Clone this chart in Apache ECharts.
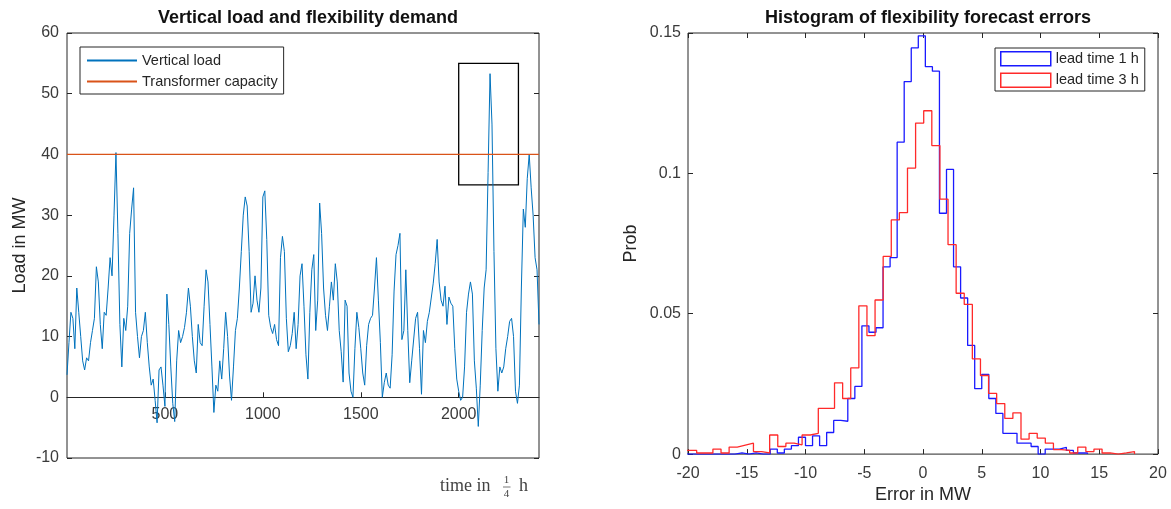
<!DOCTYPE html>
<html>
<head>
<meta charset="utf-8">
<script src="https://cdn.jsdelivr.net/npm/echarts@6/dist/echarts.min.js"></script>
<style>
html,body{margin:0;padding:0;background:#fff;}
#chart{width:1171px;height:509px;}
</style>
</head>
<body>
<div id="chart"></div>
<script>
// ---------- Left panel data ----------
const loadStep = 10; // samples every 10 quarter-hours
const loadValues = [
  3.7, 9, 14, 13, 8, 18, 14, 10, 6, 4.5,
  6.5, 6, 9, 11, 13, 21.5, 19, 12, 8, 14,
  13.5, 18, 23, 20, 30, 40.3, 27, 12, 5, 13,
  11, 15, 27, 31, 34.5, 14, 10, 6.5, 10, 11,
  14, 9, 5, 2, 3, -0.5, -4.2, 4.5, 5, 2,
  -1.5, 17, 12, 5, -1, -4, 6, 11, 9, 10,
  11.5, 14, 18, 15, 10, 6, 4, 12, 9, 8.5,
  15, 21, 19, 12, 5, -2.5, 2, 1, 6, 3,
  8, 14, 10, 3.5, -0.5, 5, 11, 13, 18, 24,
  30, 33, 31.5, 24, 14, 15.5, 20, 16, 14, 18,
  33, 34, 26, 13.5, 11.5, 10.5, 12, 9.5, 8.5, 23,
  26.5, 24, 13, 7.5, 8.5, 10.5, 14, 8, 12, 20,
  22, 15, 7, 3, 14, 21, 23.5, 11, 16, 32,
  27, 18, 13.5, 11, 15, 19, 16, 22, 19, 11,
  7.5, 2.5, 16, 15, 4, 1, 0, 8, 14, 11.5,
  8, 4, 2, 8.5, 12, 13, 13.5, 18, 23,
  16, 9, 0, 2.4, 4, 2, 1.5, 7, 17.5, 23.5,
  25, 27, 9.5, 11, 21, 11, 2.4, 6, 6, 13,
  14, 8, 0.5, 11, 9, 12.5, 14, 14, 18.8, 22,
  26, 19, 16, 15, 18.3, 12, 16.5, 15.5, 15, 8,
  3, 1, -0.5, 0, 5, 14, 17, 19, 17, 6,
  1.5, -4.8, 2, 11, 18, 21, 37, 53.3, 45, 24,
  8, 1, 5, 4, 5, 8, 10, 12.5, 13, 10,
  1, -1, 2, 18, 31, 28, 36, 40, 34.5, 30,
  23, 21, 12
];
const capacity = 40;
const timeMax = 2410;
const boxRegion = [2000, 35, 2305, 55]; // x1, y1, x2, y2
const loadTicks = {min: -10, max: 60, interval: 10};
const timeTicks = {min: 0, interval: 500};

// ---------- Right panel data ----------
const blueStart = -20.2, blueWidth = 0.6;
const blueProb = [
  0, 0, 0, 0, 0, 0, 0, 0.0004, 0, 0.0004, 0, 0,
  0.0018, 0.0004, 0.0018, 0.003, 0.006, 0.003, 0.0065, 0.003, 0.0077, 0.012,
  0.0117, 0.0198, 0.0241, 0.0457, 0.0434, 0.045, 0.0667, 0.070, 0.1111, 0.1327,
  0.1447, 0.149, 0.138, 0.1364, 0.0858, 0.1014, 0.0667, 0.0556, 0.0387, 0.0233,
  0.0284, 0.0198, 0.0145, 0.0074, 0.0074, 0.0039, 0.0039, 0.0027, 0, 0.0018,
  0.0018, 0.0024, 0.0013, 0.0004, 0.0004
];
const redStart = -20.64, redWidth = 0.69;
const redProb = [
  0.0013, 0.0013, 0.0004, 0.0004, 0.0018, 0.0004, 0.0025, 0.0032, 0.0039, 0.0009,
  0.0004, 0.0068, 0.0027, 0.0039, 0.0033, 0.0068, 0.0074, 0.0163, 0.0163, 0.0254,
  0.0198, 0.0307, 0.0528, 0.0422, 0.0549, 0.0704, 0.0834, 0.086, 0.1019, 0.1179,
  0.1223, 0.1099, 0.0908, 0.0746, 0.0573, 0.0533, 0.0339, 0.028, 0.0216, 0.018,
  0.0127, 0.0147, 0.0053, 0.0074, 0.0057, 0.0039, 0.0016, 0.0013, 0.0004, 0.0025,
  0.0009, 0.0018, 0.0004, 0, 0.0004, 0.0009
];
const errTicks = {min: -20, max: 20, interval: 5};
const probTicks = {min: 0, max: 0.15, interval: 0.05};

// ---------- build ----------
function stairs(start, width, probs) {
  const pts = [[start, 0]];
  probs.forEach((p, k) => pts.push([start + k * width, p]));
  const end = start + probs.length * width;
  pts.push([end, probs[probs.length - 1]]);
  pts.push([end, 0]);
  return pts;
}
const loadData = loadValues.map((v, i) => [i * loadStep, v]);

const FONT = '"Liberation Sans", Arial, Helvetica, sans-serif';
const AX = '#262626';
const LBL = '#3a3a3a';

const tickStyle = {inside: true, length: 5, lineStyle: {color: AX}};
const lblStyle = (m) => ({fontSize: 16, color: LBL, fontFamily: FONT, margin: m});
const nameStyle = {fontSize: 18, color: '#262626', fontFamily: FONT};

const option = {
  animation: false,
  backgroundColor: '#fff',
  title: [
    {text: 'Vertical load and flexibility demand', left: 303, top: 4, textAlign: 'center',
     textStyle: {fontSize: 18, fontWeight: 'bold', color: '#111', fontFamily: FONT}},
    {text: 'Histogram of flexibility forecast errors', left: 923, top: 4, textAlign: 'center',
     textStyle: {fontSize: 18, fontWeight: 'bold', color: '#111', fontFamily: FONT}}
  ],
  legend: [
    {left: 80, top: 47, orient: 'vertical', itemWidth: 50, itemHeight: 14, itemGap: 6,
     padding: [6, 6, 5, 6], borderColor: AX, borderWidth: 1, backgroundColor: '#fff',
     itemStyle: {opacity: 0},
     textStyle: {fontSize: 14.5, color: '#262626', fontFamily: FONT},
     data: ['Vertical load', 'Transformer capacity']},
    {left: 995, top: 48, orient: 'vertical', itemWidth: 50, itemHeight: 14, itemGap: 6,
     padding: [3, 6, 3, 5], borderColor: AX, borderWidth: 1, backgroundColor: '#fff',
     textStyle: {fontSize: 14.5, color: '#262626', fontFamily: FONT},
     data: [
       {name: 'lead time 1 h', icon: 'rect', itemStyle: {color: 'transparent', borderColor: '#1a1aff', borderWidth: 1.5}},
       {name: 'lead time 3 h', icon: 'rect', itemStyle: {color: 'transparent', borderColor: '#ff2a2a', borderWidth: 1.5}}
     ]}
  ],
  grid: [
    {left: 67, top: 33, width: 472, height: 425, show: true, borderColor: AX, borderWidth: 1, backgroundColor: 'transparent'},
    {left: 688, top: 33, width: 470, height: 425, show: true, borderColor: AX, borderWidth: 1, backgroundColor: 'transparent'}
  ],
  xAxis: [
    {gridIndex: 0, type: 'value', min: timeTicks.min, max: timeMax, interval: timeTicks.interval,
     axisLine: {show: true, onZero: true, lineStyle: {color: AX}},
     axisTick: tickStyle,
     axisLabel: Object.assign(lblStyle(-51), {showMinLabel: false, showMaxLabel: false, formatter: v => String(v)}),
     splitLine: {show: false}},
    {gridIndex: 1, type: 'value', min: errTicks.min, max: errTicks.max, interval: errTicks.interval, position: 'bottom',
     axisLine: {show: false, onZero: false},
     axisTick: tickStyle, axisLabel: Object.assign(lblStyle(11), {formatter: v => String(v)}), splitLine: {show: false},
     name: 'Error in MW', nameLocation: 'middle', nameGap: 31, nameTextStyle: nameStyle},
    {gridIndex: 1, type: 'value', min: errTicks.min, max: errTicks.max, interval: errTicks.interval, position: 'top',
     axisLine: {show: false, onZero: false},
     axisTick: tickStyle, axisLabel: {show: false}, splitLine: {show: false}}
  ],
  yAxis: [
    {gridIndex: 0, type: 'value', position: 'left', min: loadTicks.min, max: loadTicks.max, interval: loadTicks.interval,
     axisLine: {show: false, onZero: false}, axisTick: tickStyle, axisLabel: lblStyle(8), splitLine: {show: false},
     name: 'Load in MW', nameLocation: 'middle', nameGap: 38, nameTextStyle: nameStyle},
    {gridIndex: 0, type: 'value', position: 'right', min: loadTicks.min, max: loadTicks.max, interval: loadTicks.interval,
     axisLine: {show: false, onZero: false}, axisTick: tickStyle, axisLabel: {show: false}, splitLine: {show: false}},
    {gridIndex: 1, type: 'value', position: 'left', min: probTicks.min, max: probTicks.max, interval: probTicks.interval,
     axisLine: {show: false, onZero: false}, axisTick: tickStyle,
     axisLabel: Object.assign(lblStyle(7), {formatter: v => String(+v.toFixed(2))}),
     splitLine: {show: false},
     name: 'Prob', nameLocation: 'middle', nameGap: 48, nameTextStyle: nameStyle},
    {gridIndex: 1, type: 'value', position: 'right', min: probTicks.min, max: probTicks.max, interval: probTicks.interval,
     axisLine: {show: false, onZero: false}, axisTick: tickStyle, axisLabel: {show: false}, splitLine: {show: false}}
  ],
  series: [
    {name: 'Vertical load', type: 'line', xAxisIndex: 0, yAxisIndex: 0, data: loadData,
     symbol: 'none', lineStyle: {width: 1, color: '#0072BD'}, itemStyle: {color: '#0072BD'},
     markArea: {silent: true, label: {show: false},
       itemStyle: {color: 'rgba(0,0,0,0)', borderColor: '#000', borderWidth: 1.3},
       data: [[{coord: [boxRegion[0], boxRegion[1]]}, {coord: [boxRegion[2], boxRegion[3]]}]]}},
    {name: 'Transformer capacity', type: 'line', xAxisIndex: 0, yAxisIndex: 0,
     data: [[timeTicks.min, capacity], [timeMax, capacity]],
     symbol: 'none', lineStyle: {width: 1.2, color: '#D95319'}, itemStyle: {color: '#D95319'}},
    {name: 'lead time 1 h', type: 'line', xAxisIndex: 1, yAxisIndex: 2, step: 'end',
     data: stairs(blueStart, blueWidth, blueProb),
     symbol: 'none', lineStyle: {width: 1.3, color: '#1a1aff'}, itemStyle: {color: '#1a1aff'}},
    {name: 'lead time 3 h', type: 'line', xAxisIndex: 1, yAxisIndex: 2, step: 'end',
     data: stairs(redStart, redWidth, redProb),
     symbol: 'none', lineStyle: {width: 1.3, color: '#ff2a2a'}, itemStyle: {color: '#ff2a2a'}}
  ],
  graphic: [
    {type: 'text', x: 440, y: 486, style: {text: 'time in', fontSize: 18, fontFamily: '"Liberation Serif", "DejaVu Serif", serif', fill: '#444', verticalAlign: 'middle', align: 'left'}},
    {type: 'text', x: 506.5, y: 480, style: {text: '1', fontSize: 11, fontFamily: '"Liberation Serif", serif', fill: '#444', verticalAlign: 'middle', align: 'center'}},
    {type: 'line', shape: {x1: 503, y1: 487, x2: 510.5, y2: 487}, style: {stroke: '#555', lineWidth: 0.8}},
    {type: 'text', x: 506.5, y: 494, style: {text: '4', fontSize: 11, fontFamily: '"Liberation Serif", serif', fill: '#444', verticalAlign: 'middle', align: 'center'}},
    {type: 'text', x: 519, y: 486, style: {text: 'h', fontSize: 18, fontFamily: '"Liberation Serif", "DejaVu Serif", serif', fill: '#444', verticalAlign: 'middle', align: 'left'}}
  ]
};

const chart = echarts.init(document.getElementById('chart'), null, {renderer: 'canvas'});
chart.setOption(option);
</script>
</body>
</html>
